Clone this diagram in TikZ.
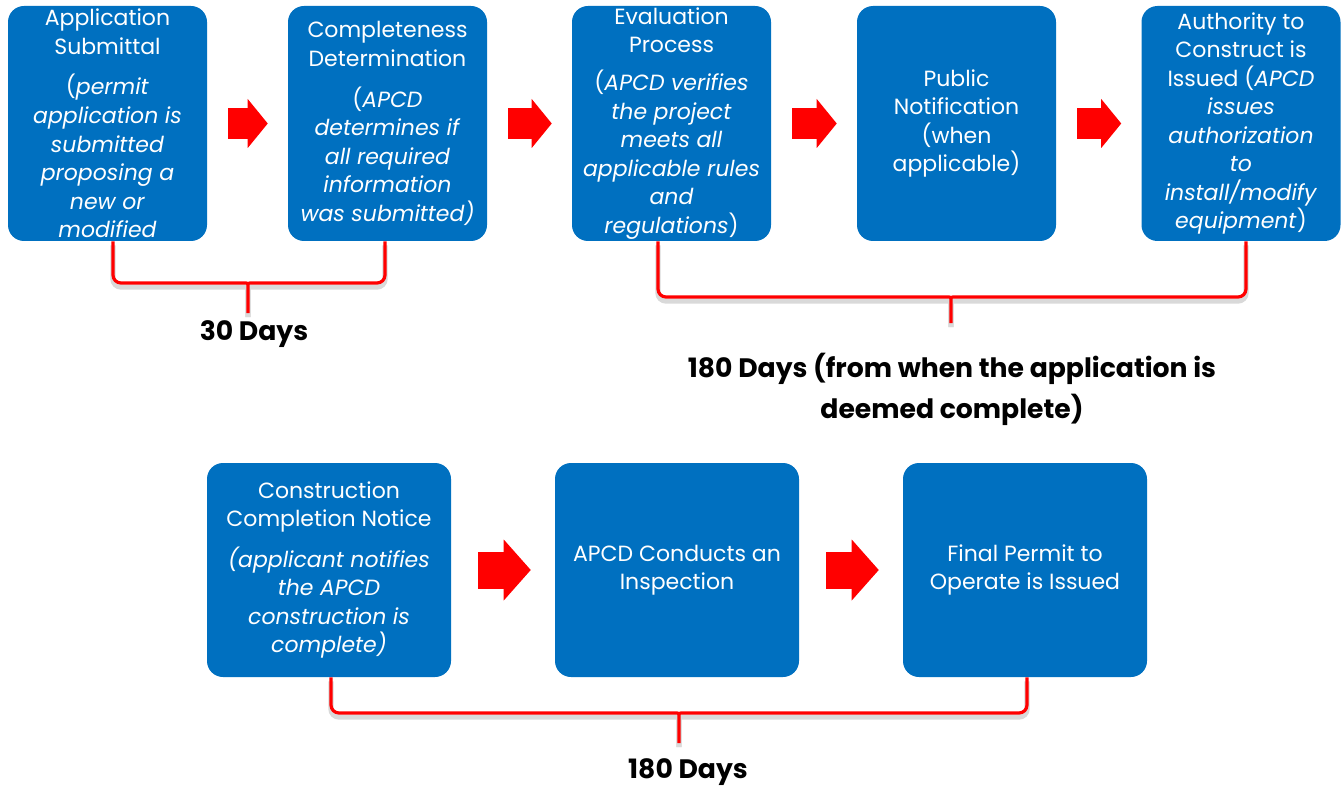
\documentclass[tikz,border=0pt]{standalone}
\usepackage{fontspec}
\setmainfont{Poppins}
\usepackage{tikz}
\usetikzlibrary{positioning,calc,arrows.meta}
\definecolor{stepblue}{HTML}{0070C0}

\begin{document}
\begin{tikzpicture}[x=0.75pt,y=-0.75pt,
  stepbox/.style={fill=stepblue, rounded corners=12pt, text=white, align=center, inner sep=0pt, font=\fontsize{16.5}{21.4}\selectfont},
  toprow/.style={stepbox, minimum width=149.25pt, minimum height=176.25pt},
  lowrow/.style={stepbox, minimum width=183pt, minimum height=160.5pt},
  flowarrow/.style={red, line width=23.25pt, -{Triangle[length=15pt,width=36.75pt,line width=0pt]}, shorten <=15.75pt, shorten >=15pt},
  bigflowarrow/.style={red, line width=27.75pt, -{Triangle[length=20.25pt,width=45.75pt,line width=0pt]}, shorten <=20.25pt, shorten >=18pt},
  bracket/.style={red, line width=2.4pt, rounded corners=6pt, preaction={draw=black!15, line width=4pt, transform canvas={yshift=-3pt}}},
  daylabel/.style={font=\fontsize{20}{31}\selectfont\bfseries, align=center, inner sep=0pt}]

\useasboundingbox (0,0) rectangle (1343,788);

% Top row: application steps
\node[toprow] (submit) at (107.5,123.5) {Application\\Submittal\\[9pt](\textit{permit}\\\textit{application is}\\\textit{submitted}\\\textit{proposing a}\\\textit{new or}\\\textit{modified}};
\node[toprow] (complete) at (387.5,123.5) {Completeness\\Determination\\[9pt](\textit{APCD}\\\textit{determines if}\\\textit{all required}\\\textit{information}\\\textit{was submitted)}};
\node[toprow] (evaluate) at (671.5,123.5) {Evaluation\\Process\\[7pt](\textit{APCD verifies}\\\textit{the project}\\\textit{meets all}\\\textit{applicable rules}\\\textit{and}\\\textit{regulations})};
\node[toprow] (notify) at (956.5,123.5) {Public\\Notification\\(when\\applicable)};
\node[toprow] (authority) at (1241,123.5) {Authority to\\Construct is\\Issued (\textit{APCD}\\\textit{issues}\\\textit{authorization}\\\textit{to}\\\textit{install/modify}\\\textit{equipment})};

\draw[flowarrow] (submit) -- (complete);
\draw[flowarrow] (complete) -- (evaluate);
\draw[flowarrow] (evaluate) -- (notify);
\draw[flowarrow] (notify) -- (authority);

% Bottom row: construction steps
\node[lowrow] (notice) at (329,570) {Construction\\Completion Notice\\[9pt]\textit{(applicant notifies}\\\textit{the APCD}\\\textit{construction is}\\\textit{complete)}};
\node[lowrow] (inspect) at (677,570) {APCD Conducts an\\Inspection};
\node[lowrow] (final) at (1025,570) {Final Permit to\\Operate is Issued};

\draw[bigflowarrow] (notice) -- (inspect);
\draw[bigflowarrow] (inspect) -- (final);

% Time brackets
\coordinate (tipA) at (248,313);
\coordinate (tipB) at (951,323);
\coordinate (tipC) at (679,743);

\draw[bracket] ($(submit.south)+(5.5,0)$) |- (238,283) .. controls (248,283) .. (248,295) -- (tipA);
\draw[bracket] ($(complete.south)+(-2.5,0)$) |- (258,283) .. controls (248,283) .. (248,295) -- (tipA);

\draw[bracket] ($(evaluate.south)+(-13.5,0)$) |- (941,297) .. controls (951,297) .. (951,309) -- (tipB);
\draw[bracket] ($(authority.south)+(5,0)$) |- (961,297) .. controls (951,297) .. (951,309) -- (tipB);

\draw[bracket] ($(notice.south)+(2,0)$) |- (669,713) .. controls (679,713) .. (679,725) -- (tipC);
\draw[bracket] ($(final.south)+(2,0)$) |- (689,713) .. controls (679,713) .. (679,725) -- (tipC);

\node[daylabel, anchor=north] (thirty) at (254,320) {30 Days};
\node[daylabel, anchor=north] (permitdays) at (952,353) {180 Days (from when the application is\\deemed complete)};
\node[daylabel, anchor=north] (builddays) at (688,758) {180 Days};
\end{tikzpicture}
\end{document}
